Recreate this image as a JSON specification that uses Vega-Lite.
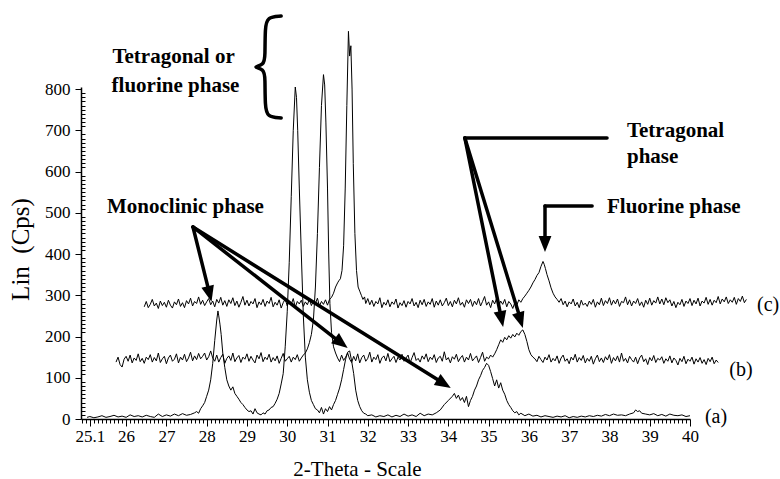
{"$schema":"https://vega.github.io/schema/vega-lite/v6.json","width":609,"height":332,"autosize":{"type":"none"},"padding":{"left":81,"top":87,"right":90,"bottom":60},"background":"white",
"config":{"font":"Liberation Serif","view":{"stroke":null},"axis":{"labelFont":"Liberation Serif","titleFont":"Liberation Serif","labelColor":"black","titleColor":"black","tickColor":"black","domainColor":"black","grid":false},"text":{"font":"Liberation Serif","color":"black"}},
"datasets":{
"xrd":[
{"s":"a","x":25.03,"y":4},{"s":"a","x":25.1,"y":6},{"s":"a","x":25.2,"y":3},{"s":"a","x":25.3,"y":5},{"s":"a","x":25.4,"y":8},{"s":"a","x":25.5,"y":4},{"s":"a","x":25.6,"y":6},{"s":"a","x":25.7,"y":9},{"s":"a","x":25.8,"y":5},{"s":"a","x":25.9,"y":7},{"s":"a","x":26.0,"y":4},{"s":"a","x":26.1,"y":10},{"s":"a","x":26.2,"y":6},{"s":"a","x":26.3,"y":8},{"s":"a","x":26.4,"y":5},{"s":"a","x":26.5,"y":9},{"s":"a","x":26.6,"y":6},{"s":"a","x":26.7,"y":4},{"s":"a","x":26.8,"y":12},{"s":"a","x":26.9,"y":6},{"s":"a","x":27.0,"y":10},{"s":"a","x":27.1,"y":7},{"s":"a","x":27.2,"y":12},{"s":"a","x":27.3,"y":8},{"s":"a","x":27.4,"y":13},{"s":"a","x":27.5,"y":9},{"s":"a","x":27.6,"y":11},{"s":"a","x":27.7,"y":15},{"s":"a","x":27.75,"y":18},{"s":"a","x":27.8,"y":14},{"s":"a","x":27.85,"y":25},{"s":"a","x":27.9,"y":32},{"s":"a","x":27.95,"y":40},{"s":"a","x":28.0,"y":55},{"s":"a","x":28.05,"y":70},{"s":"a","x":28.1,"y":95},{"s":"a","x":28.15,"y":135},{"s":"a","x":28.2,"y":190},{"s":"a","x":28.25,"y":240},{"s":"a","x":28.28,"y":262},{"s":"a","x":28.3,"y":250},{"s":"a","x":28.33,"y":230},{"s":"a","x":28.36,"y":205},{"s":"a","x":28.4,"y":160},{"s":"a","x":28.45,"y":125},{"s":"a","x":28.5,"y":95},{"s":"a","x":28.55,"y":80},{"s":"a","x":28.6,"y":70},{"s":"a","x":28.65,"y":78},{"s":"a","x":28.7,"y":62},{"s":"a","x":28.75,"y":55},{"s":"a","x":28.8,"y":48},{"s":"a","x":28.85,"y":40},{"s":"a","x":28.9,"y":35},{"s":"a","x":28.95,"y":28},{"s":"a","x":29.0,"y":22},{"s":"a","x":29.05,"y":18},{"s":"a","x":29.1,"y":20},{"s":"a","x":29.15,"y":12},{"s":"a","x":29.2,"y":25},{"s":"a","x":29.25,"y":15},{"s":"a","x":29.3,"y":12},{"s":"a","x":29.35,"y":10},{"s":"a","x":29.4,"y":15},{"s":"a","x":29.45,"y":12},{"s":"a","x":29.5,"y":20},{"s":"a","x":29.55,"y":22},{"s":"a","x":29.6,"y":28},{"s":"a","x":29.65,"y":30},{"s":"a","x":29.7,"y":38},{"s":"a","x":29.75,"y":48},{"s":"a","x":29.8,"y":62},{"s":"a","x":29.85,"y":85},{"s":"a","x":29.9,"y":110},{"s":"a","x":29.95,"y":175},{"s":"a","x":30.0,"y":260},{"s":"a","x":30.05,"y":380},{"s":"a","x":30.1,"y":540},{"s":"a","x":30.15,"y":700},{"s":"a","x":30.2,"y":805},{"s":"a","x":30.23,"y":780},{"s":"a","x":30.26,"y":700},{"s":"a","x":30.3,"y":560},{"s":"a","x":30.35,"y":400},{"s":"a","x":30.4,"y":250},{"s":"a","x":30.45,"y":150},{"s":"a","x":30.5,"y":95},{"s":"a","x":30.55,"y":65},{"s":"a","x":30.6,"y":45},{"s":"a","x":30.65,"y":35},{"s":"a","x":30.7,"y":25},{"s":"a","x":30.75,"y":22},{"s":"a","x":30.8,"y":15},{"s":"a","x":30.85,"y":28},{"s":"a","x":30.9,"y":12},{"s":"a","x":30.95,"y":25},{"s":"a","x":31.0,"y":18},{"s":"a","x":31.05,"y":30},{"s":"a","x":31.1,"y":22},{"s":"a","x":31.15,"y":35},{"s":"a","x":31.2,"y":45},{"s":"a","x":31.25,"y":60},{"s":"a","x":31.3,"y":75},{"s":"a","x":31.35,"y":95},{"s":"a","x":31.4,"y":120},{"s":"a","x":31.45,"y":145},{"s":"a","x":31.5,"y":162},{"s":"a","x":31.55,"y":165},{"s":"a","x":31.6,"y":140},{"s":"a","x":31.65,"y":110},{"s":"a","x":31.7,"y":70},{"s":"a","x":31.75,"y":45},{"s":"a","x":31.8,"y":30},{"s":"a","x":31.85,"y":20},{"s":"a","x":31.9,"y":14},{"s":"a","x":31.95,"y":12},{"s":"a","x":32.0,"y":8},{"s":"a","x":32.1,"y":10},{"s":"a","x":32.2,"y":5},{"s":"a","x":32.3,"y":8},{"s":"a","x":32.4,"y":6},{"s":"a","x":32.5,"y":10},{"s":"a","x":32.6,"y":5},{"s":"a","x":32.7,"y":9},{"s":"a","x":32.8,"y":6},{"s":"a","x":32.9,"y":12},{"s":"a","x":33.0,"y":7},{"s":"a","x":33.1,"y":10},{"s":"a","x":33.2,"y":6},{"s":"a","x":33.3,"y":14},{"s":"a","x":33.4,"y":8},{"s":"a","x":33.5,"y":12},{"s":"a","x":33.6,"y":10},{"s":"a","x":33.7,"y":15},{"s":"a","x":33.8,"y":22},{"s":"a","x":33.9,"y":35},{"s":"a","x":34.0,"y":45},{"s":"a","x":34.1,"y":55},{"s":"a","x":34.15,"y":62},{"s":"a","x":34.2,"y":50},{"s":"a","x":34.25,"y":58},{"s":"a","x":34.3,"y":45},{"s":"a","x":34.35,"y":52},{"s":"a","x":34.4,"y":40},{"s":"a","x":34.45,"y":55},{"s":"a","x":34.5,"y":30},{"s":"a","x":34.55,"y":45},{"s":"a","x":34.6,"y":55},{"s":"a","x":34.65,"y":70},{"s":"a","x":34.7,"y":80},{"s":"a","x":34.75,"y":95},{"s":"a","x":34.8,"y":105},{"s":"a","x":34.85,"y":118},{"s":"a","x":34.9,"y":125},{"s":"a","x":34.95,"y":135},{"s":"a","x":35.0,"y":130},{"s":"a","x":35.05,"y":115},{"s":"a","x":35.1,"y":98},{"s":"a","x":35.15,"y":80},{"s":"a","x":35.2,"y":95},{"s":"a","x":35.25,"y":75},{"s":"a","x":35.3,"y":88},{"s":"a","x":35.35,"y":70},{"s":"a","x":35.4,"y":60},{"s":"a","x":35.45,"y":45},{"s":"a","x":35.5,"y":35},{"s":"a","x":35.55,"y":28},{"s":"a","x":35.6,"y":20},{"s":"a","x":35.65,"y":15},{"s":"a","x":35.7,"y":18},{"s":"a","x":35.75,"y":10},{"s":"a","x":35.8,"y":14},{"s":"a","x":35.9,"y":8},{"s":"a","x":36.0,"y":12},{"s":"a","x":36.1,"y":7},{"s":"a","x":36.2,"y":9},{"s":"a","x":36.3,"y":5},{"s":"a","x":36.4,"y":8},{"s":"a","x":36.5,"y":6},{"s":"a","x":36.6,"y":4},{"s":"a","x":36.7,"y":7},{"s":"a","x":36.8,"y":5},{"s":"a","x":36.9,"y":8},{"s":"a","x":37.0,"y":3},{"s":"a","x":37.1,"y":6},{"s":"a","x":37.2,"y":4},{"s":"a","x":37.3,"y":7},{"s":"a","x":37.4,"y":5},{"s":"a","x":37.5,"y":8},{"s":"a","x":37.6,"y":6},{"s":"a","x":37.7,"y":9},{"s":"a","x":37.8,"y":7},{"s":"a","x":37.9,"y":11},{"s":"a","x":38.0,"y":8},{"s":"a","x":38.1,"y":12},{"s":"a","x":38.2,"y":9},{"s":"a","x":38.3,"y":10},{"s":"a","x":38.4,"y":8},{"s":"a","x":38.5,"y":12},{"s":"a","x":38.6,"y":15},{"s":"a","x":38.65,"y":22},{"s":"a","x":38.7,"y":18},{"s":"a","x":38.75,"y":20},{"s":"a","x":38.8,"y":14},{"s":"a","x":38.9,"y":12},{"s":"a","x":39.0,"y":10},{"s":"a","x":39.1,"y":13},{"s":"a","x":39.2,"y":8},{"s":"a","x":39.3,"y":11},{"s":"a","x":39.4,"y":7},{"s":"a","x":39.5,"y":12},{"s":"a","x":39.6,"y":9},{"s":"a","x":39.7,"y":8},{"s":"a","x":39.8,"y":10},{"s":"a","x":39.9,"y":6},{"s":"a","x":40.0,"y":8},
{"s":"b","x":25.75,"y":138},{"s":"b","x":25.8,"y":150},{"s":"b","x":25.85,"y":132},{"s":"b","x":25.9,"y":126},{"s":"b","x":25.95,"y":145},{"s":"b","x":26.0,"y":152},{"s":"b","x":26.05,"y":140},{"s":"b","x":26.1,"y":155},{"s":"b","x":26.15,"y":136},{"s":"b","x":26.2,"y":148},{"s":"b","x":26.25,"y":142},{"s":"b","x":26.3,"y":158},{"s":"b","x":26.35,"y":139},{"s":"b","x":26.4,"y":147},{"s":"b","x":26.45,"y":135},{"s":"b","x":26.5,"y":150},{"s":"b","x":26.55,"y":144},{"s":"b","x":26.6,"y":156},{"s":"b","x":26.65,"y":138},{"s":"b","x":26.7,"y":149},{"s":"b","x":26.75,"y":141},{"s":"b","x":26.8,"y":160},{"s":"b","x":26.85,"y":137},{"s":"b","x":26.9,"y":146},{"s":"b","x":26.95,"y":152},{"s":"b","x":27.0,"y":134},{"s":"b","x":27.05,"y":148},{"s":"b","x":27.1,"y":155},{"s":"b","x":27.15,"y":140},{"s":"b","x":27.2,"y":145},{"s":"b","x":27.25,"y":158},{"s":"b","x":27.3,"y":136},{"s":"b","x":27.35,"y":150},{"s":"b","x":27.4,"y":143},{"s":"b","x":27.45,"y":157},{"s":"b","x":27.5,"y":139},{"s":"b","x":27.55,"y":148},{"s":"b","x":27.6,"y":162},{"s":"b","x":27.65,"y":141},{"s":"b","x":27.7,"y":153},{"s":"b","x":27.75,"y":144},{"s":"b","x":27.8,"y":159},{"s":"b","x":27.85,"y":146},{"s":"b","x":27.9,"y":152},{"s":"b","x":27.95,"y":160},{"s":"b","x":28.0,"y":143},{"s":"b","x":28.05,"y":151},{"s":"b","x":28.1,"y":165},{"s":"b","x":28.15,"y":148},{"s":"b","x":28.2,"y":140},{"s":"b","x":28.25,"y":155},{"s":"b","x":28.3,"y":138},{"s":"b","x":28.35,"y":149},{"s":"b","x":28.4,"y":157},{"s":"b","x":28.45,"y":135},{"s":"b","x":28.5,"y":147},{"s":"b","x":28.55,"y":153},{"s":"b","x":28.6,"y":142},{"s":"b","x":28.65,"y":160},{"s":"b","x":28.7,"y":139},{"s":"b","x":28.75,"y":148},{"s":"b","x":28.8,"y":154},{"s":"b","x":28.85,"y":137},{"s":"b","x":28.9,"y":150},{"s":"b","x":28.95,"y":145},{"s":"b","x":29.0,"y":158},{"s":"b","x":29.05,"y":140},{"s":"b","x":29.1,"y":152},{"s":"b","x":29.15,"y":143},{"s":"b","x":29.2,"y":136},{"s":"b","x":29.25,"y":155},{"s":"b","x":29.3,"y":146},{"s":"b","x":29.35,"y":161},{"s":"b","x":29.4,"y":139},{"s":"b","x":29.45,"y":150},{"s":"b","x":29.5,"y":144},{"s":"b","x":29.55,"y":157},{"s":"b","x":29.6,"y":138},{"s":"b","x":29.65,"y":149},{"s":"b","x":29.7,"y":141},{"s":"b","x":29.75,"y":153},{"s":"b","x":29.8,"y":135},{"s":"b","x":29.85,"y":147},{"s":"b","x":29.9,"y":159},{"s":"b","x":29.95,"y":140},{"s":"b","x":30.0,"y":146},{"s":"b","x":30.05,"y":152},{"s":"b","x":30.1,"y":138},{"s":"b","x":30.15,"y":150},{"s":"b","x":30.2,"y":144},{"s":"b","x":30.25,"y":156},{"s":"b","x":30.3,"y":140},{"s":"b","x":30.35,"y":148},{"s":"b","x":30.4,"y":155},{"s":"b","x":30.45,"y":160},{"s":"b","x":30.5,"y":170},{"s":"b","x":30.55,"y":185},{"s":"b","x":30.6,"y":205},{"s":"b","x":30.65,"y":240},{"s":"b","x":30.7,"y":320},{"s":"b","x":30.75,"y":450},{"s":"b","x":30.8,"y":610},{"s":"b","x":30.85,"y":760},{"s":"b","x":30.9,"y":835},{"s":"b","x":30.93,"y":810},{"s":"b","x":30.96,"y":720},{"s":"b","x":31.0,"y":560},{"s":"b","x":31.03,"y":400},{"s":"b","x":31.06,"y":280},{"s":"b","x":31.1,"y":210},{"s":"b","x":31.15,"y":175},{"s":"b","x":31.2,"y":160},{"s":"b","x":31.25,"y":148},{"s":"b","x":31.3,"y":139},{"s":"b","x":31.35,"y":155},{"s":"b","x":31.4,"y":142},{"s":"b","x":31.45,"y":150},{"s":"b","x":31.5,"y":160},{"s":"b","x":31.55,"y":145},{"s":"b","x":31.6,"y":137},{"s":"b","x":31.65,"y":152},{"s":"b","x":31.7,"y":141},{"s":"b","x":31.75,"y":158},{"s":"b","x":31.8,"y":136},{"s":"b","x":31.85,"y":149},{"s":"b","x":31.9,"y":155},{"s":"b","x":31.95,"y":140},{"s":"b","x":32.0,"y":147},{"s":"b","x":32.05,"y":162},{"s":"b","x":32.1,"y":138},{"s":"b","x":32.15,"y":150},{"s":"b","x":32.2,"y":144},{"s":"b","x":32.25,"y":156},{"s":"b","x":32.3,"y":135},{"s":"b","x":32.35,"y":148},{"s":"b","x":32.4,"y":153},{"s":"b","x":32.45,"y":141},{"s":"b","x":32.5,"y":159},{"s":"b","x":32.55,"y":139},{"s":"b","x":32.6,"y":146},{"s":"b","x":32.65,"y":152},{"s":"b","x":32.7,"y":137},{"s":"b","x":32.75,"y":150},{"s":"b","x":32.8,"y":143},{"s":"b","x":32.85,"y":157},{"s":"b","x":32.9,"y":140},{"s":"b","x":32.95,"y":148},{"s":"b","x":33.0,"y":155},{"s":"b","x":33.05,"y":136},{"s":"b","x":33.1,"y":149},{"s":"b","x":33.15,"y":161},{"s":"b","x":33.2,"y":142},{"s":"b","x":33.25,"y":147},{"s":"b","x":33.3,"y":138},{"s":"b","x":33.35,"y":153},{"s":"b","x":33.4,"y":145},{"s":"b","x":33.45,"y":158},{"s":"b","x":33.5,"y":139},{"s":"b","x":33.55,"y":150},{"s":"b","x":33.6,"y":144},{"s":"b","x":33.65,"y":156},{"s":"b","x":33.7,"y":137},{"s":"b","x":33.75,"y":148},{"s":"b","x":33.8,"y":152},{"s":"b","x":33.85,"y":140},{"s":"b","x":33.9,"y":163},{"s":"b","x":33.95,"y":143},{"s":"b","x":34.0,"y":149},{"s":"b","x":34.05,"y":136},{"s":"b","x":34.1,"y":151},{"s":"b","x":34.15,"y":145},{"s":"b","x":34.2,"y":157},{"s":"b","x":34.25,"y":139},{"s":"b","x":34.3,"y":148},{"s":"b","x":34.35,"y":154},{"s":"b","x":34.4,"y":138},{"s":"b","x":34.45,"y":150},{"s":"b","x":34.5,"y":143},{"s":"b","x":34.55,"y":159},{"s":"b","x":34.6,"y":141},{"s":"b","x":34.65,"y":147},{"s":"b","x":34.7,"y":153},{"s":"b","x":34.75,"y":137},{"s":"b","x":34.8,"y":149},{"s":"b","x":34.85,"y":162},{"s":"b","x":34.9,"y":140},{"s":"b","x":34.95,"y":150},{"s":"b","x":35.0,"y":146},{"s":"b","x":35.05,"y":155},{"s":"b","x":35.1,"y":150},{"s":"b","x":35.15,"y":158},{"s":"b","x":35.2,"y":168},{"s":"b","x":35.25,"y":180},{"s":"b","x":35.3,"y":192},{"s":"b","x":35.35,"y":186},{"s":"b","x":35.4,"y":198},{"s":"b","x":35.45,"y":192},{"s":"b","x":35.5,"y":202},{"s":"b","x":35.55,"y":196},{"s":"b","x":35.6,"y":205},{"s":"b","x":35.65,"y":199},{"s":"b","x":35.7,"y":208},{"s":"b","x":35.75,"y":203},{"s":"b","x":35.8,"y":212},{"s":"b","x":35.85,"y":216},{"s":"b","x":35.9,"y":205},{"s":"b","x":35.95,"y":188},{"s":"b","x":36.0,"y":168},{"s":"b","x":36.05,"y":156},{"s":"b","x":36.1,"y":150},{"s":"b","x":36.15,"y":146},{"s":"b","x":36.2,"y":139},{"s":"b","x":36.25,"y":152},{"s":"b","x":36.3,"y":144},{"s":"b","x":36.35,"y":137},{"s":"b","x":36.4,"y":150},{"s":"b","x":36.45,"y":143},{"s":"b","x":36.5,"y":156},{"s":"b","x":36.55,"y":138},{"s":"b","x":36.6,"y":147},{"s":"b","x":36.65,"y":141},{"s":"b","x":36.7,"y":153},{"s":"b","x":36.75,"y":135},{"s":"b","x":36.8,"y":148},{"s":"b","x":36.85,"y":155},{"s":"b","x":36.9,"y":140},{"s":"b","x":36.95,"y":146},{"s":"b","x":37.0,"y":134},{"s":"b","x":37.05,"y":150},{"s":"b","x":37.1,"y":143},{"s":"b","x":37.15,"y":157},{"s":"b","x":37.2,"y":138},{"s":"b","x":37.25,"y":149},{"s":"b","x":37.3,"y":142},{"s":"b","x":37.35,"y":154},{"s":"b","x":37.4,"y":136},{"s":"b","x":37.45,"y":147},{"s":"b","x":37.5,"y":140},{"s":"b","x":37.55,"y":152},{"s":"b","x":37.6,"y":133},{"s":"b","x":37.65,"y":146},{"s":"b","x":37.7,"y":155},{"s":"b","x":37.75,"y":139},{"s":"b","x":37.8,"y":148},{"s":"b","x":37.85,"y":137},{"s":"b","x":37.9,"y":151},{"s":"b","x":37.95,"y":143},{"s":"b","x":38.0,"y":156},{"s":"b","x":38.05,"y":135},{"s":"b","x":38.1,"y":149},{"s":"b","x":38.15,"y":141},{"s":"b","x":38.2,"y":153},{"s":"b","x":38.25,"y":138},{"s":"b","x":38.3,"y":160},{"s":"b","x":38.35,"y":140},{"s":"b","x":38.4,"y":147},{"s":"b","x":38.45,"y":136},{"s":"b","x":38.5,"y":152},{"s":"b","x":38.55,"y":144},{"s":"b","x":38.6,"y":138},{"s":"b","x":38.65,"y":150},{"s":"b","x":38.7,"y":134},{"s":"b","x":38.75,"y":148},{"s":"b","x":38.8,"y":155},{"s":"b","x":38.85,"y":139},{"s":"b","x":38.9,"y":146},{"s":"b","x":38.95,"y":132},{"s":"b","x":39.0,"y":149},{"s":"b","x":39.05,"y":141},{"s":"b","x":39.1,"y":154},{"s":"b","x":39.15,"y":137},{"s":"b","x":39.2,"y":147},{"s":"b","x":39.25,"y":143},{"s":"b","x":39.3,"y":151},{"s":"b","x":39.35,"y":135},{"s":"b","x":39.4,"y":146},{"s":"b","x":39.45,"y":140},{"s":"b","x":39.5,"y":153},{"s":"b","x":39.55,"y":136},{"s":"b","x":39.6,"y":148},{"s":"b","x":39.65,"y":142},{"s":"b","x":39.7,"y":131},{"s":"b","x":39.75,"y":147},{"s":"b","x":39.8,"y":139},{"s":"b","x":39.85,"y":152},{"s":"b","x":39.9,"y":134},{"s":"b","x":39.95,"y":145},{"s":"b","x":40.0,"y":140},{"s":"b","x":40.05,"y":150},{"s":"b","x":40.1,"y":133},{"s":"b","x":40.15,"y":146},{"s":"b","x":40.2,"y":138},{"s":"b","x":40.25,"y":149},{"s":"b","x":40.3,"y":135},{"s":"b","x":40.35,"y":144},{"s":"b","x":40.4,"y":132},{"s":"b","x":40.45,"y":147},{"s":"b","x":40.5,"y":139},{"s":"b","x":40.55,"y":150},{"s":"b","x":40.6,"y":134},{"s":"b","x":40.65,"y":143},{"s":"b","x":40.7,"y":137},
{"s":"c","x":26.45,"y":272},{"s":"c","x":26.5,"y":285},{"s":"c","x":26.55,"y":270},{"s":"c","x":26.6,"y":278},{"s":"c","x":26.65,"y":290},{"s":"c","x":26.7,"y":274},{"s":"c","x":26.75,"y":281},{"s":"c","x":26.8,"y":268},{"s":"c","x":26.85,"y":286},{"s":"c","x":26.9,"y":275},{"s":"c","x":26.95,"y":283},{"s":"c","x":27.0,"y":271},{"s":"c","x":27.05,"y":288},{"s":"c","x":27.1,"y":276},{"s":"c","x":27.15,"y":269},{"s":"c","x":27.2,"y":284},{"s":"c","x":27.25,"y":277},{"s":"c","x":27.3,"y":291},{"s":"c","x":27.35,"y":273},{"s":"c","x":27.4,"y":282},{"s":"c","x":27.45,"y":270},{"s":"c","x":27.5,"y":287},{"s":"c","x":27.55,"y":279},{"s":"c","x":27.6,"y":293},{"s":"c","x":27.65,"y":274},{"s":"c","x":27.7,"y":285},{"s":"c","x":27.75,"y":280},{"s":"c","x":27.8,"y":296},{"s":"c","x":27.85,"y":278},{"s":"c","x":27.9,"y":288},{"s":"c","x":27.95,"y":275},{"s":"c","x":28.0,"y":284},{"s":"c","x":28.05,"y":292},{"s":"c","x":28.1,"y":277},{"s":"c","x":28.15,"y":286},{"s":"c","x":28.2,"y":272},{"s":"c","x":28.25,"y":290},{"s":"c","x":28.3,"y":281},{"s":"c","x":28.35,"y":295},{"s":"c","x":28.4,"y":276},{"s":"c","x":28.45,"y":287},{"s":"c","x":28.5,"y":273},{"s":"c","x":28.55,"y":289},{"s":"c","x":28.6,"y":280},{"s":"c","x":28.65,"y":294},{"s":"c","x":28.7,"y":275},{"s":"c","x":28.75,"y":286},{"s":"c","x":28.8,"y":271},{"s":"c","x":28.85,"y":283},{"s":"c","x":28.9,"y":297},{"s":"c","x":28.95,"y":276},{"s":"c","x":29.0,"y":288},{"s":"c","x":29.05,"y":274},{"s":"c","x":29.1,"y":285},{"s":"c","x":29.15,"y":279},{"s":"c","x":29.2,"y":292},{"s":"c","x":29.25,"y":270},{"s":"c","x":29.3,"y":284},{"s":"c","x":29.35,"y":277},{"s":"c","x":29.4,"y":290},{"s":"c","x":29.45,"y":273},{"s":"c","x":29.5,"y":286},{"s":"c","x":29.55,"y":280},{"s":"c","x":29.6,"y":295},{"s":"c","x":29.65,"y":272},{"s":"c","x":29.7,"y":283},{"s":"c","x":29.75,"y":276},{"s":"c","x":29.8,"y":289},{"s":"c","x":29.85,"y":269},{"s":"c","x":29.9,"y":282},{"s":"c","x":29.95,"y":291},{"s":"c","x":30.0,"y":274},{"s":"c","x":30.05,"y":286},{"s":"c","x":30.1,"y":278},{"s":"c","x":30.15,"y":292},{"s":"c","x":30.2,"y":271},{"s":"c","x":30.25,"y":285},{"s":"c","x":30.3,"y":279},{"s":"c","x":30.35,"y":288},{"s":"c","x":30.4,"y":273},{"s":"c","x":30.45,"y":284},{"s":"c","x":30.5,"y":277},{"s":"c","x":30.55,"y":290},{"s":"c","x":30.6,"y":275},{"s":"c","x":30.65,"y":286},{"s":"c","x":30.7,"y":280},{"s":"c","x":30.75,"y":293},{"s":"c","x":30.8,"y":274},{"s":"c","x":30.85,"y":285},{"s":"c","x":30.9,"y":278},{"s":"c","x":30.95,"y":289},{"s":"c","x":31.0,"y":276},{"s":"c","x":31.05,"y":290},{"s":"c","x":31.1,"y":295},{"s":"c","x":31.15,"y":305},{"s":"c","x":31.2,"y":320},{"s":"c","x":31.25,"y":330},{"s":"c","x":31.28,"y":335},{"s":"c","x":31.32,"y":340},{"s":"c","x":31.36,"y":360},{"s":"c","x":31.4,"y":420},{"s":"c","x":31.44,"y":560},{"s":"c","x":31.48,"y":760},{"s":"c","x":31.52,"y":940},{"s":"c","x":31.55,"y":880},{"s":"c","x":31.58,"y":905},{"s":"c","x":31.61,"y":800},{"s":"c","x":31.64,"y":620},{"s":"c","x":31.68,"y":450},{"s":"c","x":31.72,"y":360},{"s":"c","x":31.76,"y":320},{"s":"c","x":31.8,"y":310},{"s":"c","x":31.84,"y":300},{"s":"c","x":31.88,"y":290},{"s":"c","x":31.92,"y":296},{"s":"c","x":31.95,"y":280},{"s":"c","x":32.0,"y":292},{"s":"c","x":32.05,"y":277},{"s":"c","x":32.1,"y":288},{"s":"c","x":32.15,"y":273},{"s":"c","x":32.2,"y":285},{"s":"c","x":32.25,"y":279},{"s":"c","x":32.3,"y":294},{"s":"c","x":32.35,"y":270},{"s":"c","x":32.4,"y":283},{"s":"c","x":32.45,"y":276},{"s":"c","x":32.5,"y":289},{"s":"c","x":32.55,"y":272},{"s":"c","x":32.6,"y":284},{"s":"c","x":32.65,"y":278},{"s":"c","x":32.7,"y":291},{"s":"c","x":32.75,"y":269},{"s":"c","x":32.8,"y":282},{"s":"c","x":32.85,"y":275},{"s":"c","x":32.9,"y":287},{"s":"c","x":32.95,"y":271},{"s":"c","x":33.0,"y":285},{"s":"c","x":33.05,"y":279},{"s":"c","x":33.1,"y":292},{"s":"c","x":33.15,"y":274},{"s":"c","x":33.2,"y":283},{"s":"c","x":33.25,"y":270},{"s":"c","x":33.3,"y":288},{"s":"c","x":33.35,"y":277},{"s":"c","x":33.4,"y":290},{"s":"c","x":33.45,"y":273},{"s":"c","x":33.5,"y":284},{"s":"c","x":33.55,"y":278},{"s":"c","x":33.6,"y":292},{"s":"c","x":33.65,"y":271},{"s":"c","x":33.7,"y":286},{"s":"c","x":33.75,"y":276},{"s":"c","x":33.8,"y":289},{"s":"c","x":33.85,"y":274},{"s":"c","x":33.9,"y":282},{"s":"c","x":33.95,"y":293},{"s":"c","x":34.0,"y":275},{"s":"c","x":34.05,"y":285},{"s":"c","x":34.1,"y":272},{"s":"c","x":34.15,"y":288},{"s":"c","x":34.2,"y":279},{"s":"c","x":34.25,"y":294},{"s":"c","x":34.3,"y":276},{"s":"c","x":34.35,"y":283},{"s":"c","x":34.4,"y":271},{"s":"c","x":34.45,"y":289},{"s":"c","x":34.5,"y":280},{"s":"c","x":34.55,"y":290},{"s":"c","x":34.6,"y":273},{"s":"c","x":34.65,"y":286},{"s":"c","x":34.7,"y":277},{"s":"c","x":34.75,"y":292},{"s":"c","x":34.8,"y":274},{"s":"c","x":34.85,"y":285},{"s":"c","x":34.9,"y":297},{"s":"c","x":34.95,"y":276},{"s":"c","x":35.0,"y":284},{"s":"c","x":35.05,"y":270},{"s":"c","x":35.1,"y":288},{"s":"c","x":35.15,"y":279},{"s":"c","x":35.2,"y":293},{"s":"c","x":35.25,"y":274},{"s":"c","x":35.3,"y":286},{"s":"c","x":35.35,"y":278},{"s":"c","x":35.4,"y":290},{"s":"c","x":35.45,"y":272},{"s":"c","x":35.5,"y":285},{"s":"c","x":35.55,"y":279},{"s":"c","x":35.6,"y":268},{"s":"c","x":35.65,"y":282},{"s":"c","x":35.7,"y":276},{"s":"c","x":35.75,"y":289},{"s":"c","x":35.8,"y":283},{"s":"c","x":35.85,"y":292},{"s":"c","x":35.9,"y":298},{"s":"c","x":35.95,"y":305},{"s":"c","x":36.0,"y":312},{"s":"c","x":36.05,"y":320},{"s":"c","x":36.1,"y":330},{"s":"c","x":36.15,"y":338},{"s":"c","x":36.2,"y":348},{"s":"c","x":36.25,"y":355},{"s":"c","x":36.3,"y":370},{"s":"c","x":36.35,"y":382},{"s":"c","x":36.38,"y":375},{"s":"c","x":36.41,"y":365},{"s":"c","x":36.45,"y":350},{"s":"c","x":36.5,"y":335},{"s":"c","x":36.55,"y":318},{"s":"c","x":36.6,"y":305},{"s":"c","x":36.65,"y":296},{"s":"c","x":36.7,"y":290},{"s":"c","x":36.75,"y":283},{"s":"c","x":36.8,"y":292},{"s":"c","x":36.85,"y":277},{"s":"c","x":36.9,"y":286},{"s":"c","x":36.95,"y":272},{"s":"c","x":37.0,"y":284},{"s":"c","x":37.05,"y":279},{"s":"c","x":37.1,"y":291},{"s":"c","x":37.15,"y":274},{"s":"c","x":37.2,"y":283},{"s":"c","x":37.25,"y":270},{"s":"c","x":37.3,"y":288},{"s":"c","x":37.35,"y":276},{"s":"c","x":37.4,"y":281},{"s":"c","x":37.45,"y":273},{"s":"c","x":37.5,"y":286},{"s":"c","x":37.55,"y":278},{"s":"c","x":37.6,"y":290},{"s":"c","x":37.65,"y":271},{"s":"c","x":37.7,"y":284},{"s":"c","x":37.75,"y":277},{"s":"c","x":37.8,"y":293},{"s":"c","x":37.85,"y":275},{"s":"c","x":37.9,"y":287},{"s":"c","x":37.95,"y":280},{"s":"c","x":38.0,"y":294},{"s":"c","x":38.05,"y":276},{"s":"c","x":38.1,"y":288},{"s":"c","x":38.15,"y":279},{"s":"c","x":38.2,"y":291},{"s":"c","x":38.25,"y":273},{"s":"c","x":38.3,"y":285},{"s":"c","x":38.35,"y":282},{"s":"c","x":38.4,"y":296},{"s":"c","x":38.45,"y":277},{"s":"c","x":38.5,"y":289},{"s":"c","x":38.55,"y":274},{"s":"c","x":38.6,"y":286},{"s":"c","x":38.65,"y":280},{"s":"c","x":38.7,"y":292},{"s":"c","x":38.75,"y":275},{"s":"c","x":38.8,"y":284},{"s":"c","x":38.85,"y":271},{"s":"c","x":38.9,"y":288},{"s":"c","x":38.95,"y":278},{"s":"c","x":39.0,"y":293},{"s":"c","x":39.05,"y":276},{"s":"c","x":39.1,"y":287},{"s":"c","x":39.15,"y":281},{"s":"c","x":39.2,"y":296},{"s":"c","x":39.25,"y":279},{"s":"c","x":39.3,"y":291},{"s":"c","x":39.35,"y":277},{"s":"c","x":39.4,"y":294},{"s":"c","x":39.45,"y":282},{"s":"c","x":39.5,"y":289},{"s":"c","x":39.55,"y":274},{"s":"c","x":39.6,"y":285},{"s":"c","x":39.65,"y":270},{"s":"c","x":39.7,"y":283},{"s":"c","x":39.75,"y":277},{"s":"c","x":39.8,"y":290},{"s":"c","x":39.85,"y":273},{"s":"c","x":39.9,"y":286},{"s":"c","x":39.95,"y":280},{"s":"c","x":40.0,"y":292},{"s":"c","x":40.05,"y":275},{"s":"c","x":40.1,"y":288},{"s":"c","x":40.15,"y":279},{"s":"c","x":40.2,"y":293},{"s":"c","x":40.25,"y":274},{"s":"c","x":40.3,"y":286},{"s":"c","x":40.35,"y":281},{"s":"c","x":40.4,"y":295},{"s":"c","x":40.45,"y":278},{"s":"c","x":40.5,"y":290},{"s":"c","x":40.55,"y":276},{"s":"c","x":40.6,"y":288},{"s":"c","x":40.65,"y":282},{"s":"c","x":40.7,"y":297},{"s":"c","x":40.75,"y":279},{"s":"c","x":40.8,"y":291},{"s":"c","x":40.85,"y":284},{"s":"c","x":40.9,"y":296},{"s":"c","x":40.95,"y":280},{"s":"c","x":41.0,"y":289},{"s":"c","x":41.05,"y":283},{"s":"c","x":41.1,"y":295},{"s":"c","x":41.15,"y":278},{"s":"c","x":41.2,"y":292},{"s":"c","x":41.25,"y":285},{"s":"c","x":41.3,"y":298},{"s":"c","x":41.35,"y":282},{"s":"c","x":41.4,"y":290}
],
"brace":[{"i":1,"x":29.85,"y":977},{"i":2,"x":29.5,"y":975},{"i":3,"x":29.45,"y":948},{"i":4,"x":29.45,"y":880},{"i":5,"x":29.43,"y":858},{"i":6,"x":29.12,"y":853.5},{"i":7,"x":29.43,"y":849},{"i":8,"x":29.45,"y":827},{"i":9,"x":29.45,"y":759},{"i":10,"x":29.5,"y":732},{"i":11,"x":29.85,"y":730}],
"shafts":[{"x":27.66,"y":465.6,"x2":28.05,"y2":312.6},{"x":27.66,"y":465.6,"x2":31.26,"y2":190.1},{"x":27.66,"y":465.6,"x2":33.81,"y2":90.7},{"x":34.41,"y":681.4,"x2":37.94,"y2":681.4},{"x":34.41,"y":681.4,"x2":35.30,"y2":251.7},{"x":34.41,"y":681.4,"x2":35.77,"y2":248.5},{"x":36.40,"y":516.5,"x2":37.57,"y2":516.5},{"x":36.40,"y":516.5,"x2":36.40,"y2":434.0}],
"heads":[{"id":"m1","x":28.12,"y":284.4},{"id":"m2","x":31.50,"y":172.2},{"id":"m3","x":34.06,"y":75.2},{"id":"t1","x":35.36,"y":223.1},{"id":"t2","x":35.85,"y":220.7},{"id":"f1","x":36.40,"y":404.9}],
"notes":[{"t":"Tetragonal or","x":25.66,"y":878},{"t":"fluorine phase","x":25.64,"y":807.5},{"t":"Monoclinic phase","x":25.525,"y":514},{"t":"Tetragonal","x":38.435,"y":698.4},{"t":"phase","x":38.435,"y":635.3},{"t":"Fluorine phase","x":37.94,"y":514}],
"tags":[{"t":"(a)","x":40.645,"y":5},{"t":"(b)","x":41.265,"y":119},{"t":"(c)","x":41.94,"y":276}]
},
"layer":[
{"data":{"name":"xrd"},"mark":{"type":"line","color":"black","strokeWidth":1},
"encoding":{"x":{"field":"x","type":"quantitative","scale":{"domain":[24.88,40],"nice":false,"zero":false},"axis":{"orient":"bottom","values":[25.1,26,27,28,29,30,31,32,33,34,35,36,37,38,39,40],"format":".3~g","tickSize":7,"tickWidth":1,"tickColor":"black","domainWidth":1.5,"labelFont":"Liberation Serif","labelFontSize":17,"labelPadding":2,"labelFlush":false,"labelOverlap":false,"title":"2-Theta - Scale","titleFont":"Liberation Serif","titleFontSize":21,"titleFontWeight":"normal","titleX":276,"titleY":56,"titleAlign":"center","titleBaseline":"alphabetic"}},
"y":{"field":"y","type":"quantitative","scale":{"domain":[0,805],"nice":false,"zero":false},"axis":{"orient":"left","values":[0,100,200,300,400,500,600,700,800],"format":"d","tickSize":6,"tickWidth":1,"tickColor":"black","domainWidth":1.5,"labelFont":"Liberation Serif","labelFontSize":17,"labelPadding":5,"title":"Lin\u00a0\u00a0(Cps)","titleFont":"Liberation Serif","titleFontSize":25,"titleFontWeight":"normal","titleX":-53,"titleY":162,"titleAngle":-90,"titleAlign":"center","titleBaseline":"alphabetic"}},
"detail":{"field":"s"}}},
{"data":{"name":"xrd"},"mark":{"type":"line","opacity":0},
"encoding":{"x":{"field":"x","type":"quantitative","axis":{"orient":"bottom","labels":false,"title":null,"domain":false,"grid":false,"ticks":true,"tickSize":4,"tickWidth":1,"tickColor":"black","tickOpacity":1,"values":[24.9,25,25.2,25.3,25.4,25.5,25.6,25.7,25.8,25.9,26.1,26.2,26.3,26.4,26.5,26.6,26.7,26.8,26.9,27.1,27.2,27.3,27.4,27.5,27.6,27.7,27.8,27.9,28.1,28.2,28.3,28.4,28.5,28.6,28.7,28.8,28.9,29.1,29.2,29.3,29.4,29.5,29.6,29.7,29.8,29.9,30.1,30.2,30.3,30.4,30.5,30.6,30.7,30.8,30.9,31.1,31.2,31.3,31.4,31.5,31.6,31.7,31.8,31.9,32.1,32.2,32.3,32.4,32.5,32.6,32.7,32.8,32.9,33.1,33.2,33.3,33.4,33.5,33.6,33.7,33.8,33.9,34.1,34.2,34.3,34.4,34.5,34.6,34.7,34.8,34.9,35.1,35.2,35.3,35.4,35.5,35.6,35.7,35.8,35.9,36.1,36.2,36.3,36.4,36.5,36.6,36.7,36.8,36.9,37.1,37.2,37.3,37.4,37.5,37.6,37.7,37.8,37.9,38.1,38.2,38.3,38.4,38.5,38.6,38.7,38.8,38.9,39.1,39.2,39.3,39.4,39.5,39.6,39.7,39.8,39.9]}},
"y":{"field":"y","type":"quantitative","axis":{"orient":"left","labels":false,"title":null,"domain":false,"grid":false,"ticks":true,"tickSize":-4,"tickWidth":1,"tickColor":"black","tickOpacity":1,"values":[10,20,30,40,50,60,70,80,90,110,120,130,140,150,160,170,180,190,210,220,230,240,250,260,270,280,290,310,320,330,340,350,360,370,380,390,410,420,430,440,450,460,470,480,490,510,520,530,540,550,560,570,580,590,610,620,630,640,650,660,670,680,690,710,720,730,740,750,760,770,780,790]}},
"detail":{"field":"s"}}},
{"data":{"name":"brace"},"mark":{"type":"line","color":"black","strokeWidth":3.5,"interpolate":"basis","strokeCap":"round"},
"encoding":{"x":{"field":"x","type":"quantitative","axis":null},"y":{"field":"y","type":"quantitative","axis":null},"order":{"field":"i","type":"quantitative"}}},
{"data":{"name":"shafts"},"mark":{"type":"rule","color":"black","strokeWidth":3.5,"strokeCap":"round"},
"encoding":{"x":{"field":"x","type":"quantitative","axis":null},"y":{"field":"y","type":"quantitative","axis":null},"x2":{"field":"x2"},"y2":{"field":"y2"}}},
{"data":{"name":"heads"},"transform":[{"filter":"datum.id == 'm1'"}],"mark":{"type":"point","shape":"M0,0L0.4,1L-0.4,1Z","filled":true,"color":"black","opacity":1,"size":1024,"angle":166},"encoding":{"x":{"field":"x","type":"quantitative","axis":null},"y":{"field":"y","type":"quantitative","axis":null}}},
{"data":{"name":"heads"},"transform":[{"filter":"datum.id == 'm2'"}],"mark":{"type":"point","shape":"M0,0L0.4,1L-0.4,1Z","filled":true,"color":"black","opacity":1,"size":1024,"angle":128},"encoding":{"x":{"field":"x","type":"quantitative","axis":null},"y":{"field":"y","type":"quantitative","axis":null}}},
{"data":{"name":"heads"},"transform":[{"filter":"datum.id == 'm3'"}],"mark":{"type":"point","shape":"M0,0L0.4,1L-0.4,1Z","filled":true,"color":"black","opacity":1,"size":1024,"angle":122},"encoding":{"x":{"field":"x","type":"quantitative","axis":null},"y":{"field":"y","type":"quantitative","axis":null}}},
{"data":{"name":"heads"},"transform":[{"filter":"datum.id == 't1'"}],"mark":{"type":"point","shape":"M0,0L0.4,1L-0.4,1Z","filled":true,"color":"black","opacity":1,"size":1024,"angle":168.6},"encoding":{"x":{"field":"x","type":"quantitative","axis":null},"y":{"field":"y","type":"quantitative","axis":null}}},
{"data":{"name":"heads"},"transform":[{"filter":"datum.id == 't2'"}],"mark":{"type":"point","shape":"M0,0L0.4,1L-0.4,1Z","filled":true,"color":"black","opacity":1,"size":1024,"angle":163},"encoding":{"x":{"field":"x","type":"quantitative","axis":null},"y":{"field":"y","type":"quantitative","axis":null}}},
{"data":{"name":"heads"},"transform":[{"filter":"datum.id == 'f1'"}],"mark":{"type":"point","shape":"M0,0L0.4,1L-0.4,1Z","filled":true,"color":"black","opacity":1,"size":1024,"angle":180},"encoding":{"x":{"field":"x","type":"quantitative","axis":null},"y":{"field":"y","type":"quantitative","axis":null}}},
{"data":{"name":"notes"},"mark":{"type":"text","font":"Liberation Serif","fontSize":21,"fontWeight":"bold","align":"left","baseline":"middle","color":"black"},
"encoding":{"x":{"field":"x","type":"quantitative","axis":null},"y":{"field":"y","type":"quantitative","axis":null},"text":{"field":"t"}}},
{"data":{"name":"tags"},"mark":{"type":"text","font":"Liberation Serif","fontSize":20,"align":"center","baseline":"middle","color":"black"},
"encoding":{"x":{"field":"x","type":"quantitative","axis":null},"y":{"field":"y","type":"quantitative","axis":null},"text":{"field":"t"}}}
],
"resolve":{"axis":{"x":"independent","y":"independent"}}
}
